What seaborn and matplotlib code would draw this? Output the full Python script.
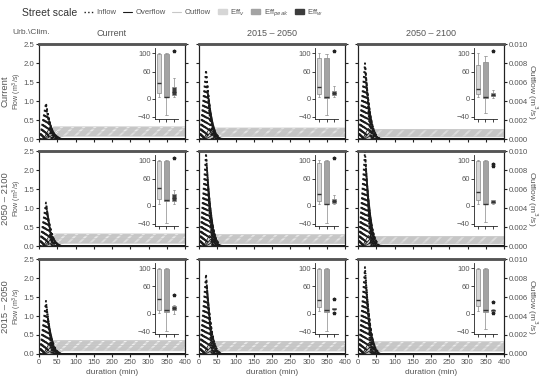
import numpy as np
import pandas as pd
import seaborn as sns
import matplotlib.pyplot as plt
from matplotlib.lines import Line2D
from matplotlib.patches import Patch

sns.set_theme(style='white')
plt.rcParams['font.family'] = ['Liberation Sans', 'DejaVu Sans']
plt.rcParams['hatch.linewidth'] = 1.4

clim = ['Current', '2015 – 2050', '2050 – 2100']
urb = ['Current', '2050 – 2100', '2015 – 2050']

# largest inflow peak per panel (m3/s), rows = urbanisation, cols = climate
in_peak = [[0.95, 1.82, 2.0], [1.15, 2.45, 2.5], [1.40, 2.10, 2.29]]
# inflow events: start, peak time, end (min), height relative to the largest
in_t0 = [2, 3, 3, 4, 5, 5, 6, 7, 8, 8, 9, 10, 11, 12, 13, 14]
in_tp = [19, 20, 21, 22, 23, 24, 25, 26, 27, 28, 29, 30, 31, 32, 33, 34]
in_t1 = [34, 36, 37, 39, 40, 42, 43, 45, 46, 48, 49, 51, 53, 55, 57, 60]
in_rel = [1.0, 0.93, 0.86, 0.79, 0.72, 0.66, 0.6, 0.54, 0.48, 0.42, 0.37, 0.32, 0.27, 0.22, 0.17, 0.13]

# overflow events (m3/s)
ov_t0 = [12, 15, 18]
ov_tp = [28, 32, 36]
ov_t1 = [58, 62, 66]
ov_q = [0.28, 0.18, 0.10]

# outflow plateau per panel (m3/s) and events
out_top = [[1.28e-3, 1.16e-3, 1.0e-3], [1.28e-3, 1.2e-3, 1.0e-3], [1.4e-3, 1.32e-3, 1.28e-3]]
out_t0 = [10, 14, 18, 22, 26, 30, 34, 38]
out_t1 = [40, 44, 48, 52, 56, 60, 64, 68]
out_rel = [1.0, 0.88, 0.76, 0.64, 0.52, 0.42, 0.32, 0.24]

# efficiencies (%) shown in the insets
eff_v = [[[4, 8, 11, 13, 25, 35, 50, 98, 100, 100, 100],
          [3, 8, 9, 11, 20, 27, 45, 88, 94, 98, 100],
          [3, 7, 9, 11, 17, 22, 35, 72, 78, 95, 100]],
         [[5, 10, 14, 16, 30, 40, 60, 98, 100, 100, 100],
          [3, 7, 9, 11, 18, 27, 45, 92, 96, 98, 100],
          [4, 9, 11, 13, 22, 30, 50, 98, 100, 100, 100]],
         [[2, 6, 8, 10, 20, 33, 55, 99, 100, 100, 100],
          [5, 10, 14, 16, 22, 31, 55, 99, 100, 100, 100],
          [6, 12, 16, 18, 24, 29, 50, 99, 100, 100, 100]]]
eff_peak = [[[-35, 1, 2, 4, 4, 4, 5, 99, 100, 100, 100],
             [-35, 1, 2, 3.5, 4, 4, 5, 88, 92, 95, 98],
             [-32, 0, 2, 3, 3, 3, 10, 80, 84, 90, 95]],
            [[-38, 5, 9, 11, 12, 12, 20, 99, 100, 100, 100],
             [-38, 1, 2, 4, 4, 4, 6, 99, 100, 100, 100],
             [-35, 1, 2, 4, 4, 4, 6, 99, 100, 100, 100]],
            [[-38, 0, 3, 5, 6, 7.5, 15, 99, 100, 100, 100],
             [-38, -10, 2, 4, 5, 7, 12, 99, 100, 100, 100],
             [-35, -5, 2, 4, 5, 7, 12, 99, 100, 100, 100]]]
eff_w = [[[3, 6, 8, 10, 13, 15, 18, 22, 28, 45, 105],
          [4, 6, 7, 9, 11, 13, 14, 16, 18, 28, 105],
          [2, 4, 5, 7, 8, 8, 9, 11, 13, 20, 105]],
         [[5, 8, 9, 11, 15, 18, 20, 23, 27, 35, 105],
          [3, 5, 6, 8, 9, 10, 11, 13, 15, 24, 105],
          [3, 5, 6, 8, 8, 9, 10, 11, 13, 88, 92]],
         [[0, 5, 8, 10, 11, 12, 13, 15, 17, 20, 41],
          [2, 8, 9, 10, 11, 11, 11, 12, 12, 13, 33],
          [1, 5, 6, 7, 7, 8, 8, 9, 9, 10, 26]]]

eff_names = ['v', 'peak', 'w']
eff_cols = ['#d6d6d6', '#a3a3a3', '#3c3c3c']
txt = '#555555'

fig = plt.figure(figsize=(5.5, 3.81), dpi=100)
lefts = [0.071, 0.362, 0.651]
bottoms = [0.635, 0.354, 0.071]
w, h = 0.2655, 0.249

for r in range(3):
    for c in range(3):
        ax = fig.add_axes([lefts[c], bottoms[r], w, h])
        ax2 = ax.twinx()
        ax.set_zorder(ax2.get_zorder() + 1)
        ax.patch.set_visible(False)

        # outflow
        rows = []
        for k in range(len(out_t0)):
            lev = out_rel[k] * out_top[r][c]
            for t, q in zip([0, out_t0[k], out_t1[k], 400], [0, 0, lev, lev]):
                rows.append((k, t, q))
        odf = pd.DataFrame(rows, columns=['ev', 't', 'q'])
        tt = np.arange(0, 401, 1.0)
        top = np.interp(tt, [0, out_t0[0], out_t1[0], 400], [0, 0, out_top[r][c], out_top[r][c]])
        low = np.interp(tt, [0, out_t0[-1], out_t1[-1], 400],
                        [0, 0, out_rel[-1] * out_top[r][c], out_rel[-1] * out_top[r][c]])
        ax2.fill_between(tt, low, top, facecolor='#cbcbcb', edgecolor='white', hatch='///', lw=0)
        sns.lineplot(data=odf, x='t', y='q', units='ev', estimator=None, color='#c4c4c4',
                     lw=0.6, ax=ax2, legend=False)

        # inflow
        rows = []
        for k in range(len(in_t0)):
            for t, q in zip([0, in_t0[k], in_tp[k], in_t1[k], 400],
                            [0, 0, in_rel[k] * in_peak[r][c], 0, 0]):
                rows.append((k, t, q))
        idf = pd.DataFrame(rows, columns=['ev', 't', 'q'])
        sns.lineplot(data=idf, x='t', y='q', units='ev', estimator=None, color='k',
                     lw=1.3, linestyle=':', ax=ax, legend=False)

        # overflow
        rows = []
        for k in range(len(ov_t0)):
            for t, q in zip([0, ov_t0[k], ov_tp[k], ov_t1[k], 400], [0, 0, ov_q[k], 0, 0]):
                rows.append((k, t, q))
        vdf = pd.DataFrame(rows, columns=['ev', 't', 'q'])
        sns.lineplot(data=vdf, x='t', y='q', units='ev', estimator=None, color='k',
                     lw=0.6, ax=ax, legend=False)

        ax.set_xlim(0, 400)
        ax.set_ylim(0, 2.5)
        ax2.set_ylim(0, 0.010)
        ax.set_xticks(np.arange(0, 401, 50))
        ax.set_yticks(np.arange(0, 2.51, 0.5))
        ax2.set_yticks(np.arange(0, 0.0101, 0.002))
        ax.set_xlabel('')
        ax.set_ylabel('')
        ax2.set_ylabel('')
        ax.yaxis.set_major_formatter(plt.FormatStrFormatter('%.1f'))
        ax2.yaxis.set_major_formatter(plt.FormatStrFormatter('%.3f'))
        for a in (ax, ax2):
            a.tick_params(direction='out', length=2.5, width=0.8, labelsize=5.6,
                          colors='#222', labelcolor=txt, pad=1)
            for s in a.spines.values():
                s.set_color('#222')
                s.set_linewidth(0.8)
            a.spines['top'].set_linewidth(1.8)
            a.spines['top'].set_color('#555')
        ax.tick_params(axis='x', bottom=True)
        ax.tick_params(axis='y', left=True)
        ax2.tick_params(axis='y', right=True)
        if c != 0:
            ax.set_yticklabels([])
        else:
            ymid = bottoms[r] + h / 2
            fig.text(0.031, ymid, 'Flow (m$^3$/s)', rotation=90,
                     ha='center', va='center', fontsize=5, color=txt)
            fig.text(0.010, ymid, urb[r], rotation=90,
                     ha='center', va='center', fontsize=6.8, color=txt)
        if c != 2:
            ax2.set_yticklabels([])
        else:
            ax2.set_ylabel('Outflow (m$^3$/s)', fontsize=6, color=txt, rotation=270, labelpad=8)
        if r != 2:
            ax.set_xticklabels([])
        else:
            ax.set_xlabel('duration (min)', fontsize=6, color=txt, labelpad=2)

        # inset box plots
        ins = ax.inset_axes([0.795, 0.21, 0.155, 0.75])
        bdf = pd.DataFrame({'eff': np.repeat(eff_names, 11),
                            'val': eff_v[r][c] + eff_peak[r][c] + eff_w[r][c]})
        sns.boxplot(data=bdf, x='eff', y='val', hue='eff', palette=eff_cols, ax=ins,
                    width=0.6, linewidth=0.5, linecolor='#888', legend=False,
                    medianprops=dict(color='#333', lw=1.0),
                    flierprops=dict(marker='*', markersize=2.5, markerfacecolor='#222',
                                    markeredgecolor='#222'))
        ins.set_facecolor('none')
        ins.set_ylim(-45, 112)
        ins.set_yticks([-40, 0, 60, 100])
        ins.set_xlabel('')
        ins.set_ylabel('')
        ins.set_xticks([0, 1, 2])
        ins.set_xticklabels([])
        ins.spines['top'].set_visible(False)
        ins.spines['right'].set_visible(False)
        for s in ('left', 'bottom'):
            ins.spines[s].set_color('#222')
            ins.spines[s].set_linewidth(0.6)
        ins.tick_params(direction='out', length=2, width=0.6, labelsize=5.5,
                        colors='#222', labelcolor=txt, pad=1, bottom=True, left=True)

for c in range(3):
    fig.text(lefts[c] + w / 2, 0.913, clim[c], ha='center', va='center', fontsize=6.5, color=txt)
fig.text(0.022, 0.916, 'Urb.\\Clim.', ha='left', va='center', fontsize=6, color=txt)
fig.text(0.04, 0.966, 'Street scale', ha='left', va='center', fontsize=7.5, color='#333')

handles = [Line2D([], [], color='k', ls=':', lw=1),
           Line2D([], [], color='k', lw=0.8),
           Line2D([], [], color='#c8c8c8', lw=0.8),
           Patch(color=eff_cols[0]), Patch(color=eff_cols[1]), Patch(color=eff_cols[2])]
labels = ['Inflow', 'Overflow', 'Outflow', 'Eff$_v$', 'Eff$_{peak}$', 'Eff$_w$']
leg = fig.legend(handles, labels, loc='center left', bbox_to_anchor=(0.14, 0.966), ncol=6,
                 frameon=False, fontsize=5.5, handlelength=1.2, handleheight=0.6,
                 columnspacing=0.9, handletextpad=0.4)
for t in leg.get_texts():
    t.set_color(txt)

fig.savefig('out.png', dpi=100)
